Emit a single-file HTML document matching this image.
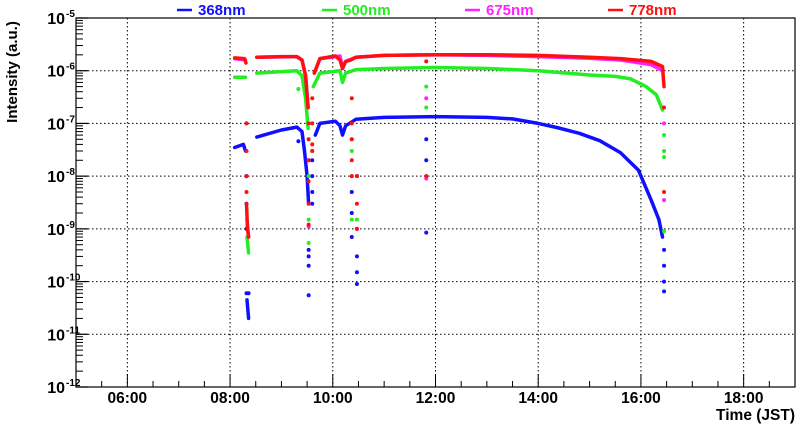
<!DOCTYPE html>
<html><head><meta charset="utf-8"><style>
body{margin:0;background:#fff;width:800px;height:427px;overflow:hidden;font-family:"Liberation Sans",Arial,sans-serif}
svg text{font-family:"Liberation Sans",Arial,sans-serif;font-weight:bold}
</style></head><body>
<svg id="chart" width="800" height="427" xmlns="http://www.w3.org/2000/svg">
<g id="grid"></g>
<g id="axes"></g>
<g id="series"></g>
<text transform="translate(17,72) rotate(-90)" text-anchor="middle" font-size="15">Intensity (a.u.)</text>
<text x="795" y="420" text-anchor="end" font-size="15.5">Time (JST)</text>
<g id="legend"></g>
</svg>
<script>
// ---- data ----
const xTicks=[6,8,10,12,14,16,18];
const xTickLabels=["06:00","08:00","10:00","12:00","14:00","16:00","18:00"];
const yDecades=[-12,-11,-10,-9,-8,-7,-6,-5];
const seriesNames=["368nm","500nm","675nm","778nm"];
const seriesColors=["#1010ff","#22ee22","#ff22ff","#ff1010"];
// line segments (null separates segments)
const blueT=[8.09,8.26,8.3,null,8.33,8.36,null,8.52,9.0,9.3,9.4,9.45,9.5,9.53,null,9.66,9.75,10.05,10.14,10.19,10.25,10.45,11,12,13,13.5,14,14.4,14.8,15.2,15.6,15.95,16.2,16.35,16.42];
const blueV=[3.5e-8,4e-8,3e-8,null,4.5e-11,2e-11,null,5.5e-8,7.5e-8,8.5e-8,7e-8,3e-8,1e-8,3e-9,null,6e-8,1e-7,1.1e-7,9e-8,6e-8,9e-8,1.2e-7,1.3e-7,1.35e-7,1.3e-7,1.22e-7,1e-7,8.2e-8,6.5e-8,4.7e-8,2.8e-8,1.3e-8,3.5e-9,1.5e-9,7e-10];
const blueDotT=[8.32,8.32,8.32,8.32,8.36,9.33,9.53,9.53,9.53,9.53,9.6,9.6,9.6,9.6,10.37,10.37,10.37,10.47,10.47,10.47,10.47,11.82,11.82,11.82,16.45,16.45,16.45,16.45];
const blueDotV=[1e-8,3e-9,1e-9,6e-11,6e-11,4.6e-8,4e-10,3e-10,2e-10,5.5e-11,2e-8,5e-9,3e-9,1e-8,5e-9,2e-9,7e-10,1e-8,3e-10,1.5e-10,9e-11,8.5e-10,5e-8,2e-8,4e-10,2e-10,1e-10,6.5e-11];
const greenT=[8.09,8.3,null,8.33,8.36,null,8.52,9.3,9.4,9.47,9.52,null,9.62,9.75,10.14,10.19,10.25,10.45,11,12,13,14,15,15.5,15.8,16.1,16.3,16.42];
const greenV=[7.5e-7,7.5e-7,null,7e-10,3.5e-10,null,9e-7,1e-6,8e-7,3e-7,8e-8,null,5e-7,9e-7,1e-6,6e-7,9e-7,1.05e-6,1.1e-6,1.15e-6,1.1e-6,1e-6,8.3e-7,7.8e-7,7e-7,5e-7,3.5e-7,1.8e-7];
const greenDotT=[8.32,8.32,9.33,9.53,9.53,9.53,9.53,9.6,10.37,10.37,10.37,10.47,10.47,11.82,11.82,11.82,16.45,16.45,16.45,16.45];
const greenDotV=[1e-7,1e-8,4.5e-7,5e-8,1e-8,1.5e-9,5.4e-10,3e-8,3e-8,1e-8,1.5e-9,1e-9,1.5e-9,5e-7,2e-7,1e-8,6e-8,3e-8,2.3e-8,9e-10];
const magentaT=[8.09,8.3,null,8.33,8.36,null,8.52,9.3,9.4,9.47,9.52,null,9.64,9.75,10.14,10.19,10.25,10.45,11,12,13,14,15,15.6,16.2,16.42];
const magentaV=[1.7e-6,1.6e-6,null,1.5e-9,7e-10,null,1.8e-6,1.85e-6,1.6e-6,8e-7,2e-7,null,9e-7,1.7e-6,1.9e-6,1.1e-6,1.5e-6,1.8e-6,1.95e-6,2e-6,1.95e-6,1.85e-6,1.72e-6,1.6e-6,1.3e-6,1e-6];
const magentaDotT=[8.32,9.53,9.53,10.37,10.47,11.82,11.82,16.45,16.45];
const magentaDotV=[1e-8,2e-8,1.1e-9,5e-8,1e-9,3e-7,9e-9,1e-7,3.5e-9];
const redT=[8.09,8.28,8.31,null,8.32,8.34,8.36,null,8.52,9.0,9.3,9.4,9.47,9.52,null,9.64,9.75,10.05,10.14,10.19,10.25,10.35,10.45,11,12,13,14,15,15.6,16.2,16.42,16.45];
const redV=[1.75e-6,1.7e-6,1.4e-6,null,3e-9,1e-9,7e-10,null,1.8e-6,1.85e-6,1.85e-6,1.6e-6,8e-7,2e-7,null,9e-7,1.7e-6,1.9e-6,1.6e-6,1.1e-6,1.5e-6,1.6e-6,1.8e-6,1.95e-6,2e-6,2e-6,1.95e-6,1.8e-6,1.7e-6,1.5e-6,1.2e-6,5e-7];
const redDotT=[8.32,8.32,8.32,8.32,9.53,9.53,9.53,9.53,9.53,9.53,9.6,9.6,9.6,9.6,10.37,10.37,10.37,10.37,10.37,10.47,10.47,10.47,11.82,11.82,16.45,16.45];
const redDotV=[1e-7,3e-8,1e-8,5e-9,1e-7,5e-8,2e-8,8e-9,3e-9,1.2e-9,4e-8,3e-8,1e-7,3e-7,3e-7,1e-7,5e-8,2e-8,1e-8,1e-8,3e-9,1e-9,1.5e-6,1e-8,2e-7,5e-9];

// ---- axes ----
const L=76,R=795,T=18,B=387,X0=5,X1=19;
const xs=t=>L+(t-X0)/(X1-X0)*(R-L);
const ys=v=>T+(-5-Math.log10(v))/7*(B-T);
const NS="http://www.w3.org/2000/svg";
function mk(tag,attrs,parent){const e=document.createElementNS(NS,tag);for(const k in attrs)e.setAttribute(k,attrs[k]);parent.appendChild(e);return e;}
const grid=document.getElementById('grid'),axes=document.getElementById('axes'),ser=document.getElementById('series'),leg=document.getElementById('legend');
xTicks.forEach((t,i)=>{
  const l=mk('line',{x1:xs(t),x2:xs(t),y1:T,y2:B,stroke:'#000','stroke-width':1,'stroke-dasharray':'1.5,2.5'},grid);
  
  
  const tx=mk('text',{x:xs(t),y:403,'text-anchor':'middle','font-size':15.5},axes);
  tx.textContent=xTickLabels[i];
  
  
});
for(let t=X0+0.5;t<X1;t+=0.5){
  const major=Math.abs(t-Math.round(t))<1e-6&&Math.round(t)%2===0;
  const tk=mk('line',{x1:xs(t),x2:xs(t),y1:B,y2:B-(major?13:6),stroke:'#000','stroke-width':1},axes);
  
  
}
yDecades.forEach(d=>{
  const y=ys(Math.pow(10,d));
  if(d>-12&&d<-5){const g=mk('line',{x1:L,x2:R,y1:y,y2:y,stroke:'#000','stroke-width':1,'stroke-dasharray':'1.5,2.5'},grid);
    
    }
  mk('line',{x1:L,x2:L+12,y1:y,y2:y,stroke:'#000','stroke-width':1.2},axes);
  if(d<-5){for(let m=2;m<=9;m++){const yy=ys(m*Math.pow(10,d));mk('line',{x1:L,x2:L+7,y1:yy,y2:yy,stroke:'#000','stroke-width':1},axes);}}
  const tx=mk('text',{x:65,y:y+6,'text-anchor':'end','font-size':16},axes);
  tx.textContent='10';
  
  
  const sp=mk('text',{x:66,y:y-1,'text-anchor':'start','font-size':10},axes);
  sp.textContent=String(d);
});
mk('rect',{x:L,y:T,width:R-L,height:B-T,fill:'none',stroke:'#000','stroke-width':1.2},axes);

// ---- series ----
function drawSeries(T_,V_,DT,DV,color,name){
  const g=mk('g',{},ser);
  
  
  let seg=[];
  const flush=()=>{if(seg.length>1){const p=mk('polyline',{points:seg.join(' '),fill:'none',stroke:color,'stroke-width':3.5,'stroke-linejoin':'round','stroke-linecap':'round'},g);
    
    }seg=[];};
  T_.forEach((t,i)=>{if(t===null){flush();}else seg.push(xs(t).toFixed(1)+','+ys(V_[i]).toFixed(1));});
  flush();
  DT.forEach((t,i)=>{const c=mk('circle',{cx:xs(t),cy:ys(DV[i]),r:2,fill:color},g);
    
    });
}
drawSeries(blueT,blueV,blueDotT,blueDotV,seriesColors[0],'368nm');
drawSeries(greenT,greenV,greenDotT,greenDotV,seriesColors[1],'500nm');
drawSeries(magentaT,magentaV,magentaDotT,magentaDotV,seriesColors[2],'675nm');
drawSeries(redT,redV,redDotT,redDotV,seriesColors[3],'778nm');

// ---- legend ----
const legX=[177,322,465,608];
seriesNames.forEach((n,i)=>{
  const g=mk('g',{},leg);
  
  
  mk('line',{x1:legX[i],x2:legX[i]+15,y1:10,y2:10,stroke:seriesColors[i],'stroke-width':2.5},g);
  const t=mk('text',{x:legX[i]+21,y:15,'font-size':15,fill:seriesColors[i]},g);
  t.textContent=n;
});
</script>
</body></html>
